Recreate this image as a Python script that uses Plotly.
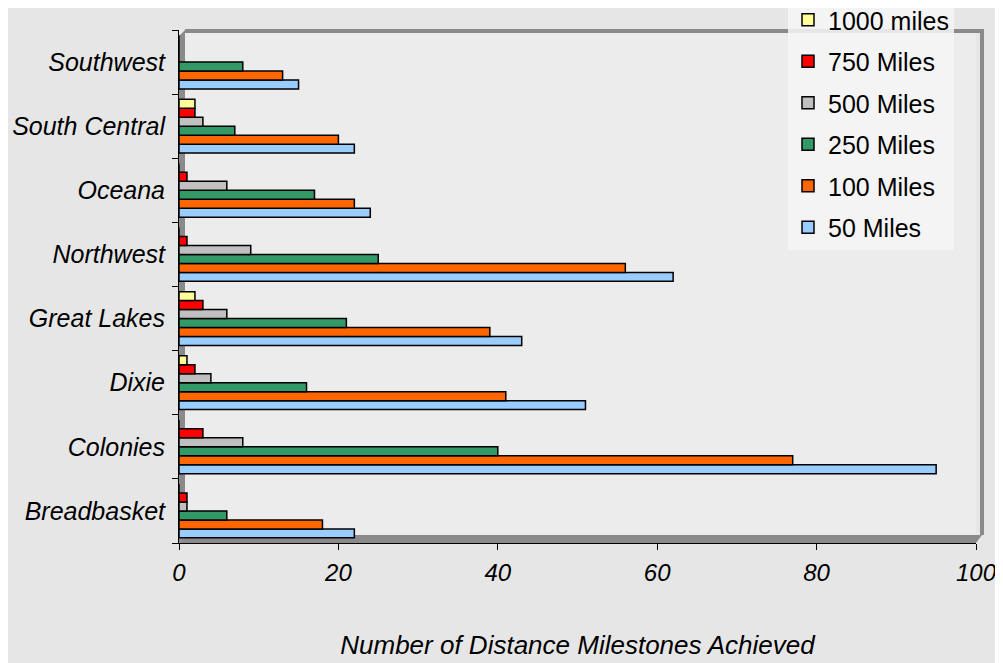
import plotly.graph_objects as go

regions = ['Breadbasket', 'Colonies', 'Dixie', 'Great Lakes',
           'Northwest', 'Oceana', 'South Central', 'Southwest']

miles_50 = [22, 95, 51, 43, 62, 24, 22, 15]
miles_100 = [18, 77, 41, 39, 56, 22, 20, 13]
miles_250 = [6, 40, 16, 21, 25, 17, 7, 8]
miles_500 = [1, 8, 4, 6, 9, 6, 3, 0]
miles_750 = [1, 3, 2, 3, 1, 1, 2, 0]
miles_1000 = [0, 0, 1, 2, 0, 0, 2, 0]

series = [
    ('50 Miles', miles_50, '#99CCFF'),
    ('100 Miles', miles_100, '#FF6600'),
    ('250 Miles', miles_250, '#339966'),
    ('500 Miles', miles_500, '#C0C0C0'),
    ('750 Miles', miles_750, '#FF0000'),
    ('1000 miles', miles_1000, '#FFFF99'),
]

FONT = 'Liberation Sans, Arial, sans-serif'

# page pixels of the plot area (the page body has an 8px margin)
OFF = 8
W, H = 1003 - OFF, 663 - OFF
L, R, T, B = 179, 976, 30, 543


def px(x):
    return (x - L) / (R - L)


def py(y):
    return (B - y) / (B - T)


fig = go.Figure()
for i, (name, vals, col) in enumerate(series):
    fig.add_trace(go.Bar(y=regions, x=vals, name=name, orientation='h',
                         legendgroup=name, legendrank=100 - i,
                         marker=dict(color=col, line=dict(color='black', width=1.5))))

wall = '#8a8a8a'
shapes = [
    # floor
    dict(type='path', xref='paper', yref='paper', layer='below',
         path='M %f,%f L %f,%f L %f,%f L %f,%f Z' % (
             px(179), py(543), px(976), py(543), px(982), py(535), px(185), py(535)),
         fillcolor=wall, line=dict(width=0)),
    # left wall
    dict(type='path', xref='paper', yref='paper', layer='below',
         path='M %f,%f L %f,%f L %f,%f L %f,%f Z' % (
             px(179), py(543), px(185), py(535), px(185), py(30), px(179), py(36)),
         fillcolor=wall, line=dict(width=0)),
    # back wall frame
    dict(type='line', xref='paper', yref='paper', layer='below',
         x0=px(185), y0=py(31), x1=px(984), y1=py(31),
         line=dict(color=wall, width=4)),
    dict(type='line', xref='paper', yref='paper', layer='below',
         x0=px(982), y0=py(31), x1=px(982), y1=py(535),
         line=dict(color=wall, width=4)),
]

fig.update_layout(
    width=W, height=H,
    margin=dict(l=L - OFF, r=1003 - R, t=T - OFF, b=663 - B, autoexpand=False),
    paper_bgcolor='#e6e6e6',
    plot_bgcolor='#ececec',
    barmode='group',
    bargap=0.16,
    bargroupgap=0.0,
    font=dict(family=FONT, color='black', size=25),
    shapes=shapes,
    xaxis=dict(range=[0, 100], dtick=20, showgrid=False, zeroline=False,
               showline=True, linecolor='black', linewidth=1,
               ticks='outside', ticklen=6, tickcolor='black',
               ticklabelstandoff=2, automargin=False,
               tickfont=dict(size=24, style='italic'),
               title=dict(text='Number of Distance Milestones Achieved',
                          font=dict(size=26, style='italic'), standoff=51)),
    yaxis=dict(showgrid=False, showline=True, linecolor='black', linewidth=1,
               ticks='outside', ticklen=6, tickcolor='black', tickson='boundaries',
               ticklabelstandoff=8, automargin=False,
               tickfont=dict(size=25, style='italic')),
    legend=dict(x=px(788), y=py(-3), xanchor='left', yanchor='top',
                traceorder='grouped', tracegroupgap=6,
                bgcolor='rgba(246,246,246,0.85)',
                font=dict(size=25)),
)

fig.write_html("out.html")
